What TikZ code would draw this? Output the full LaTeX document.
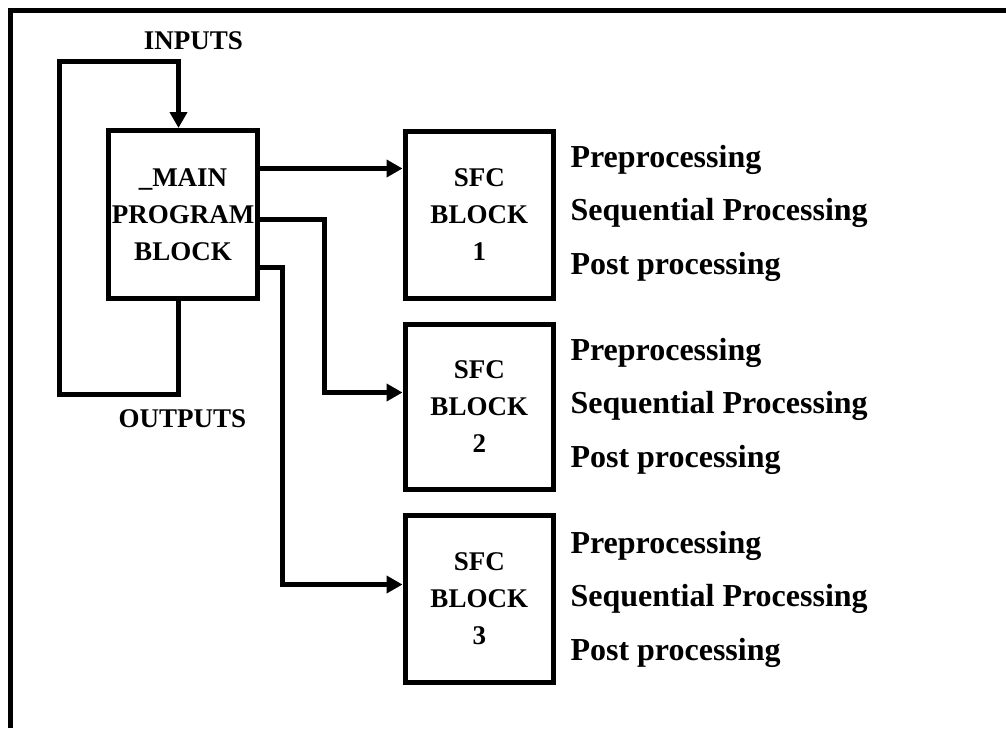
\documentclass[tikz,border=0pt]{standalone}
\usepackage{fontspec}
\setmainfont{Liberation Serif}
\usetikzlibrary{arrows.meta}
\begin{document}
\begin{tikzpicture}[x=1pt,y=-1pt,line width=5pt,line join=miter,
  blk/.style={draw,line width=5pt,inner sep=0pt,outer sep=2.5pt,align=center,
    font=\fontsize{27}{37}\selectfont\bfseries},
  sfc/.style={blk,minimum width=148.5pt},
  tag/.style={anchor=base,inner sep=0pt,font=\fontsize{27}{27}\selectfont\bfseries},
  step text/.style={anchor=base west,inner sep=0pt,font=\fontsize{32}{32}\selectfont\bfseries},
  arr/.style={-{Triangle[length=16pt,width=17pt]}}]
\useasboundingbox (0,0) rectangle (1006,728);

% frame
\draw (10.7,728) -- (10.7,10.7) -- (1006,10.7);

% blocks
\node[blk,minimum width=149pt,minimum height=168pt] (main) at (183,214.5)
  {\_MAIN\\PROGRAM\\BLOCK};
\node[sfc,minimum height=167pt] (s1) at (479.25,215) {SFC\\BLOCK\\1};
\node[sfc,minimum height=165pt] (s2) at (479.25,407) {SFC\\BLOCK\\2};
\node[sfc,minimum height=167pt] (s3) at (479.25,599) {SFC\\BLOCK\\3};

% loop labels
\node[tag] (in) at (193.5,49) {INPUTS};
\node[tag] (out) at (182.5,427) {OUTPUTS};

% step lists
\foreach \b/\y in {1/167,2/360,3/553}{
  \node[step text] (pre\b) at (568,\y) {Preprocessing};
  \node[step text] (seq\b) at (568,\y+53.5) {Sequential Processing};
  \node[step text] (post\b) at (568,\y+107.5) {Post processing};
}

% helper coordinates for bends
\coordinate (lx) at (178.5,0);
\coordinate (y1) at (0,168.5);
\coordinate (y2) at (0,219.5);
\coordinate (y3) at (0,267.5);
\coordinate (a2) at (0,392.5);
\coordinate (a3) at (0,584.5);

% input/output loop
\draw[arr] (main.south -| lx) |- (59.5,394.5) |- (178.5,61.5) -- (main.north -| lx);

% connectors to the SFC blocks
\draw[arr] (main.east |- y1) -- (s1.west |- y1);
\draw[arr] (main.east |- y2) -| (324.5,392.5) -- (s2.west |- a2);
\draw[arr] (main.east |- y3) -| (282.5,584.5) -- (s3.west |- a3);
\end{tikzpicture}
\end{document}
